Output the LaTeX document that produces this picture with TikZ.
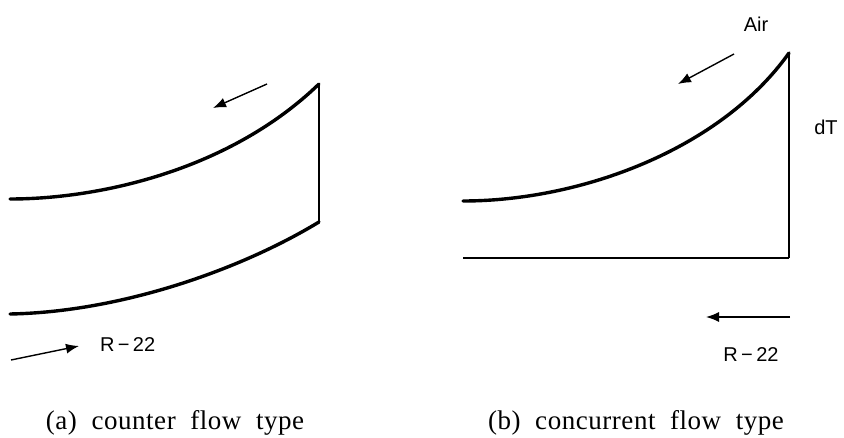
\documentclass[tikz,border=0pt]{standalone}
\usepackage{fontspec}
\setmainfont{Liberation Serif}
\newfontfamily\labelfont{Liberation Sans}
\newfontfamily\captionfont[WordSpace=2, LetterSpace=2]{Liberation Serif}
\usepackage{tikz}
\usetikzlibrary{arrows.meta}

\begin{document}
\begin{tikzpicture}[x=1pt, y=-1pt,
    curve/.style={line width=3.4pt, line cap=round},
    wall/.style={line width=1.4pt},
    flow/.style={-{Latex[length=13pt, width=10pt]}, line width=1.4pt},
    lbl/.style={font=\labelfont\fontsize{20}{22}\selectfont, inner sep=0pt},
    captext/.style={font=\captionfont\fontsize{27}{30}\selectfont, inner sep=0pt, anchor=base}
  ]
  \useasboundingbox (0,0) rectangle (844,438);

  % (a) counter flow
  \coordinate (a1) at (10,199);
  \coordinate (a2) at (319,84);
  \coordinate (a3) at (10,314);
  \coordinate (a4) at (319,222);
  \draw[curve] (a1) .. controls (100,199) and (230,170) .. (a2);
  \draw[curve] (a3) .. controls (120,312) and (240,270) .. (a4);
  \draw[wall] (a2) -- (a4);
  \coordinate (airAs) at (267,84);
  \coordinate (airAe) at (213,108);
  \draw[flow] (airAs) -- (airAe);
  \coordinate (refAs) at (11,360);
  \coordinate (refAe) at (79,346);
  \draw[flow] (refAs) -- (refAe);
  \node[lbl, anchor=west] (refA) at (100,345) {R\,−\,22};
  \node[captext] (capA) at (175,429) {(a) counter flow type};

  % (b) concurrent flow
  \coordinate (b1) at (463,201);
  \coordinate (b2) at (789,53);
  \coordinate (b3) at (463,258);
  \coordinate (b4) at (789,258);
  \draw[curve] (b1) .. controls (580,201) and (720,150) .. (b2);
  \draw[curve, line width=2.8pt, line cap=butt] (b3) -- (b4);
  \draw[wall, line width=1.6pt] (b2) -- (b4);
  \coordinate (airBs) at (734,54);
  \coordinate (airBe) at (678,84);
  \draw[flow] (airBs) -- (airBe);
  \node[lbl] (air) at (756,24) {Air};
  \node[lbl] (dT) at (826,127) {dT};
  \coordinate (refBs) at (790,317);
  \coordinate (refBe) at (706,317);
  \draw[flow] (refBs) -- (refBe);
  \node[lbl] (refB) at (751,355) {R\,−\,22};
  \node[captext] (capB) at (636,429) {(b) concurrent flow type};
\end{tikzpicture}
\end{document}
